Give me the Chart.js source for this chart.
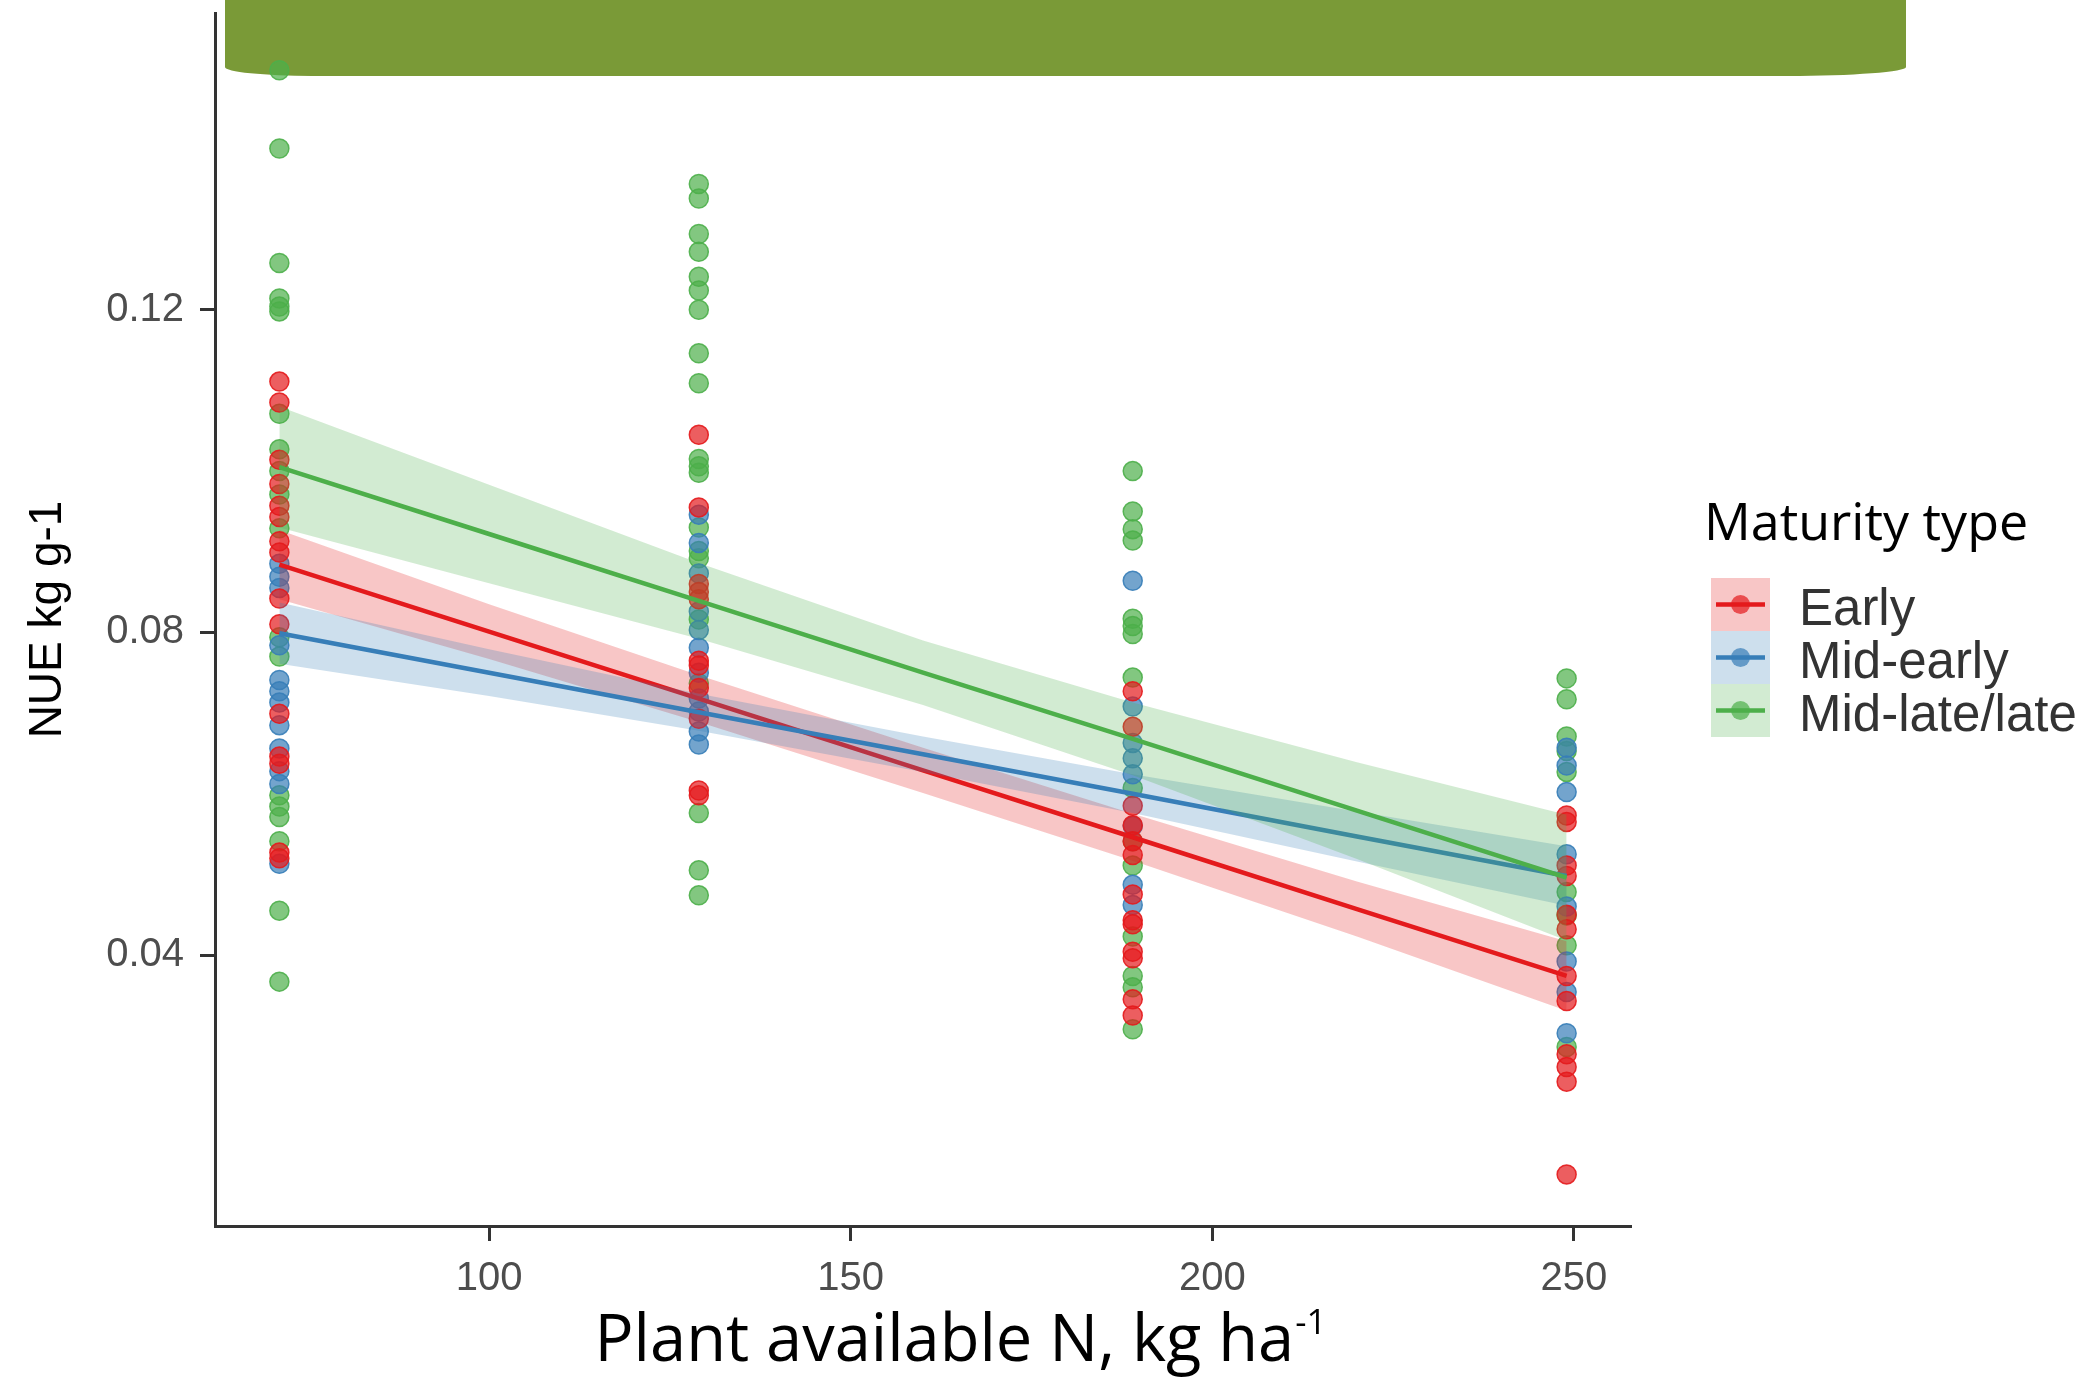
<!DOCTYPE html>
<html>
<head>
<meta charset="utf-8">
<title>NUE by plant available N</title>
<script src="https://cdn.jsdelivr.net/npm/chart.js@4.4.1/dist/chart.umd.min.js"></script>
<style>
  html, body { margin: 0; padding: 0; background: #fff; }
  canvas { display: block; }
</style>
</head>
<body>
<canvas id="nue" width="2094" height="1377"></canvas>
<script>
// N levels (kg ha-1) of the trials
var nLevels = [71, 129, 189, 249];
var groupNames = ['Early', 'Mid-early', 'Mid-late/late'];
var groupColors = ['#E41A1C', '#377EB8', '#4DAF4A'];

// observed NUE (kg g-1), one list per N level
var earlyNue = [
  [0.1111, 0.1085, 0.1014, 0.0984, 0.0957, 0.0943, 0.0913, 0.0899, 0.0842, 0.0810, 0.0699, 0.0646, 0.0637, 0.0527, 0.0520],
  [0.1045, 0.0955, 0.0860, 0.0850, 0.0841, 0.0765, 0.0759, 0.0731, 0.0693, 0.0604, 0.0598],
  [0.0727, 0.0683, 0.0585, 0.0561, 0.0541, 0.0524, 0.0475, 0.0443, 0.0438, 0.0404, 0.0396, 0.0345, 0.0325],
  [0.0573, 0.0565, 0.0511, 0.0498, 0.0450, 0.0432, 0.0374, 0.0343, 0.0277, 0.0261, 0.0243, 0.0128]
];
var midEarlyNue = [
  [0.0885, 0.0869, 0.0855, 0.0784, 0.0741, 0.0727, 0.0713, 0.0685, 0.0656, 0.0628, 0.0612, 0.0513],
  [0.0946, 0.0911, 0.0873, 0.0826, 0.0803, 0.0781, 0.0750, 0.0718, 0.0702, 0.0677, 0.0661],
  [0.0864, 0.0708, 0.0663, 0.0644, 0.0624, 0.0560, 0.0487, 0.0462],
  [0.0657, 0.0635, 0.0602, 0.0525, 0.0460, 0.0392, 0.0354, 0.0303]
];
var midLateNue = [
  [0.1497, 0.1400, 0.1258, 0.1214, 0.1204, 0.1198, 0.1071, 0.1027, 0.1000, 0.0971, 0.0929, 0.0794, 0.0770, 0.0598, 0.0584, 0.0571, 0.0541, 0.0455, 0.0367],
  [0.1356, 0.1338, 0.1294, 0.1272, 0.1241, 0.1224, 0.1200, 0.1146, 0.1109, 0.1015, 0.1006, 0.0998, 0.0930, 0.0901, 0.0892, 0.0816, 0.0737, 0.0576, 0.0505, 0.0474],
  [0.1000, 0.0950, 0.0928, 0.0914, 0.0817, 0.0808, 0.0798, 0.0744, 0.0607, 0.0541, 0.0511, 0.0423, 0.0374, 0.0360, 0.0308],
  [0.0743, 0.0717, 0.0671, 0.0653, 0.0627, 0.0478, 0.0449, 0.0412, 0.0286]
];

// lm fit with 95% band, taken at these N values
var fitN = [71, 100, 129, 160, 189, 220, 249];
var earlyFit   = [0.0884, 0.0801, 0.0718, 0.0629, 0.0546, 0.0457, 0.0374];
var earlyUpper = [0.0927, 0.0835, 0.0747, 0.0657, 0.0575, 0.0491, 0.0417];
var earlyLower = [0.0841, 0.0767, 0.0689, 0.0601, 0.0517, 0.0423, 0.0331];
var midEarlyFit   = [0.0799, 0.0750, 0.0701, 0.0649, 0.0600, 0.0547, 0.0498];
var midEarlyUpper = [0.0837, 0.0779, 0.0724, 0.0671, 0.0624, 0.0578, 0.0535];
var midEarlyLower = [0.0761, 0.0721, 0.0678, 0.0627, 0.0576, 0.0516, 0.0461];
var midLateFit   = [0.1005, 0.0922, 0.0839, 0.0750, 0.0668, 0.0579, 0.0496];
var midLateUpper = [0.1080, 0.0983, 0.0886, 0.0790, 0.0713, 0.0639, 0.0574];
var midLateLower = [0.0930, 0.0861, 0.0792, 0.0710, 0.0623, 0.0519, 0.0418];

var xTicks = [100, 150, 200, 250];
var yTicks = [0.04, 0.08, 0.12];

function hexToRgba(hex, a) {
  var n = parseInt(hex.replace('#', ''), 16);
  return 'rgba(' + ((n >> 16) & 255) + ',' + ((n >> 8) & 255) + ',' + (n & 255) + ',' + a + ')';
}

function obsPoints(perLevel) {
  var out = [];
  perLevel.forEach(function (vals, i) {
    vals.forEach(function (v) { out.push({ x: nLevels[i], y: v }); });
  });
  return out;
}
function curve(ys) {
  return ys.map(function (y, i) { return { x: fitN[i], y: y }; });
}

var groups = [
  { obs: earlyNue, fit: earlyFit, up: earlyUpper, lo: earlyLower },
  { obs: midEarlyNue, fit: midEarlyFit, up: midEarlyUpper, lo: midEarlyLower },
  { obs: midLateNue, fit: midLateFit, up: midLateUpper, lo: midLateLower }
];

// higher order is drawn first: points at the bottom, then each group's band + line
var datasets = [];
groups.forEach(function (g, i) {
  var c = groupColors[i];
  var base = 6 - i * 2;
  datasets.push({
    label: groupNames[i] + ' band',
    data: curve(g.up), fill: '+1', backgroundColor: hexToRgba(c, 0.25),
    borderWidth: 0, pointRadius: 0, order: base
  });
  datasets.push({
    label: groupNames[i] + ' band low',
    data: curve(g.lo), fill: false, borderWidth: 0, pointRadius: 0, order: base
  });
  datasets.push({
    label: groupNames[i] + ' fit',
    data: curve(g.fit), fill: false, borderColor: c, borderWidth: 4.5,
    pointRadius: 0, tension: 0, order: base - 1
  });
});
groups.forEach(function (g, i) {
  var c = groupColors[i];
  datasets.push({
    label: groupNames[i],
    data: obsPoints(g.obs), showLine: false,
    pointRadius: 9.5, pointBorderWidth: 1.5,
    pointBackgroundColor: hexToRgba(c, 0.7), pointBorderColor: hexToRgba(c, 0.9),
    order: 10 + i
  });
});

// olive header strip across the top of the panel
var banner = {
  id: 'banner',
  beforeDatasetsDraw: function (chart) {
    var ctx = chart.ctx;
    var l = 225, r = 1906, b = 76;
    ctx.save();
    ctx.fillStyle = '#7a9a37';
    ctx.beginPath();
    ctx.moveTo(l, 0);
    ctx.lineTo(r, 0);
    ctx.lineTo(r, b - 9);
    ctx.ellipse(r - 118, b - 9, 118, 9, 0, 0, Math.PI / 2);
    ctx.lineTo(l + 87, b);
    ctx.ellipse(l + 87, b - 9, 87, 9, 0, Math.PI / 2, Math.PI);
    ctx.closePath();
    ctx.fill();
    ctx.restore();
  }
};

// x title with the superscript unit
var xTitle = {
  id: 'xTitle',
  afterDraw: function (chart) {
    var ctx = chart.ctx;
    var main = 'Plant available N, kg ha', sup = '-1';
    ctx.save();
    ctx.fillStyle = '#000';
    ctx.textBaseline = 'alphabetic';
    ctx.font = '65px "Open Sans"';
    var w1 = ctx.measureText(main).width;
    ctx.font = '35px "Open Sans"';
    var w2 = ctx.measureText(sup).width;
    var x0 = 960 - (w1 + w2) / 2;
    ctx.font = '65px "Open Sans"';
    ctx.fillText(main, x0, 1361);
    ctx.font = '35px "Open Sans"';
    ctx.fillText(sup, x0 + w1 + 1, 1334);
    ctx.restore();
  }
};

// legend with ribbon / line / point keys
var keyLegend = {
  id: 'keyLegend',
  afterDraw: function (chart) {
    var ctx = chart.ctx;
    ctx.save();
    ctx.fillStyle = '#000';
    ctx.textBaseline = 'alphabetic';
    ctx.font = '52px "Open Sans"';
    ctx.fillText('Maturity type', 1704, 540);
    groupNames.forEach(function (name, i) {
      var c = groupColors[i], top = 578 + i * 53, cy = top + 26.5;
      ctx.fillStyle = hexToRgba(c, 0.25);
      ctx.fillRect(1711, top, 59, 53);
      ctx.beginPath();
      ctx.arc(1740.5, cy, 9.5, 0, Math.PI * 2);
      ctx.fillStyle = hexToRgba(c, 0.7);
      ctx.fill();
      ctx.strokeStyle = c;
      ctx.lineWidth = 4.5;
      ctx.beginPath();
      ctx.moveTo(1716, cy);
      ctx.lineTo(1765, cy);
      ctx.stroke();
      ctx.fillStyle = '#333';
      ctx.font = '51px "Liberation Sans"';
      ctx.fillText(name, 1799, top + 47);
    });
    ctx.restore();
  }
};

var tickFont = { family: 'Liberation Sans', size: 40 };

new Chart(document.getElementById('nue').getContext('2d'), {
  type: 'line',
  data: { datasets: datasets },
  options: {
    responsive: false,
    animation: false,
    devicePixelRatio: 1,
    events: [],
    layout: { padding: { top: 13, right: 463, bottom: 0, left: 0 } },
    plugins: { legend: { display: false }, tooltip: { enabled: false } },
    scales: {
      x: {
        type: 'linear', min: 62.1, max: 257.9,
        afterBuildTicks: function (s) { s.ticks = xTicks.map(function (v) { return { value: v }; }); },
        afterFit: function (s) { s.height = 151; s.paddingLeft = 0; s.paddingRight = 0; },
        grid: { drawOnChartArea: false, drawTicks: true, tickLength: 15, tickWidth: 3, tickColor: '#333' },
        border: { display: true, color: '#333', width: 3 },
        ticks: { font: tickFont, color: '#4d4d4d', padding: 14, maxRotation: 0, autoSkip: false }
      },
      y: {
        min: 0.0064, max: 0.1568,
        afterBuildTicks: function (s) { s.ticks = yTicks.map(function (v) { return { value: v }; }); },
        afterFit: function (s) { s.width = 215; s.paddingTop = 0; s.paddingBottom = 0; },
        grid: { drawOnChartArea: false, drawTicks: true, tickLength: 15, tickWidth: 3, tickColor: '#333' },
        border: { display: true, color: '#333', width: 3 },
        ticks: {
          font: tickFont, color: '#4d4d4d', padding: 16,
          callback: function (v) { return v.toFixed(2); }
        },
        title: {
          display: true, text: 'NUE kg g-1', color: '#000',
          font: { family: 'Liberation Sans', size: 46 },
          padding: { top: 21, bottom: 0 }
        }
      }
    }
  },
  plugins: [banner, xTitle, keyLegend]
});
</script>
</body>
</html>
